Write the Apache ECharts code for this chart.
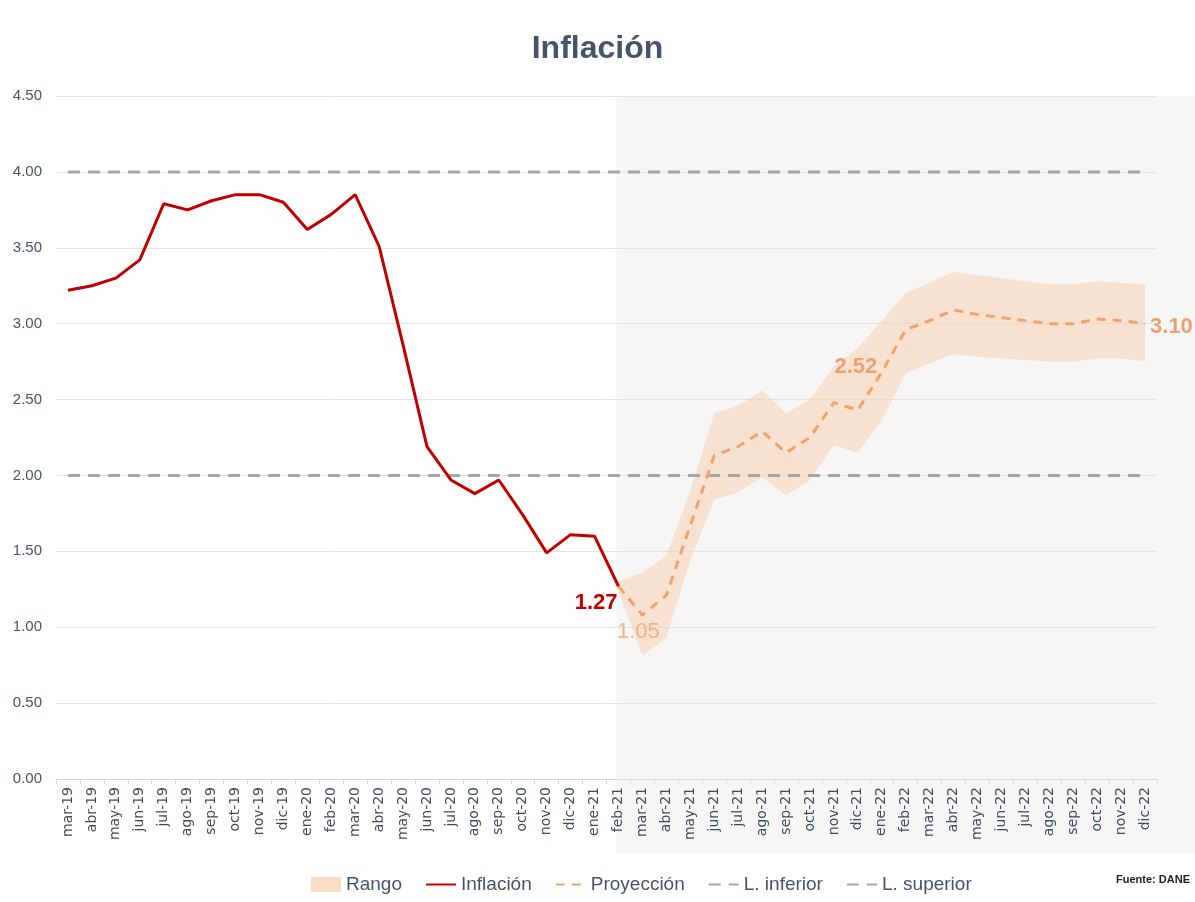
<!DOCTYPE html>
<html>
<head>
<meta charset="utf-8">
<script src="https://cdn.jsdelivr.net/npm/echarts@6/dist/echarts.min.js"></script>
<style>
html,body{margin:0;padding:0;background:#fff;}
#chart{width:1195px;height:902px;}
</style>
</head>
<body>
<div id="chart"></div>
<script>
const categories = ['mar-19','abr-19','may-19','jun-19','jul-19','ago-19','sep-19','oct-19','nov-19','dic-19',
  'ene-20','feb-20','mar-20','abr-20','may-20','jun-20','jul-20','ago-20','sep-20','oct-20','nov-20','dic-20',
  'ene-21','feb-21','mar-21','abr-21','may-21','jun-21','jul-21','ago-21','sep-21','oct-21','nov-21','dic-21',
  'ene-22','feb-22','mar-22','abr-22','may-22','jun-22','jul-22','ago-22','sep-22','oct-22','nov-22','dic-22'];

// Observed inflation mar-19 .. feb-21
const inflacion = [3.22,3.25,3.30,3.42,3.79,3.75,3.81,3.85,3.85,3.80,
  3.62,3.72,3.85,3.51,2.86,2.19,1.97,1.88,1.97,1.74,1.49,1.61,
  1.60,1.27];

// Projection feb-21 .. dic-22
const proyeccion = [1.27,1.08,1.21,1.67,2.13,2.19,2.29,2.15,2.25,2.48,2.43,
  2.68,2.96,3.02,3.09,3.06,3.04,3.02,3.00,3.00,3.03,3.02,3.00];

// Range band feb-21 .. dic-22
const rangoSup = [1.30,1.36,1.47,1.90,2.41,2.46,2.56,2.41,2.50,2.72,2.84,
  3.02,3.20,3.27,3.34,3.32,3.30,3.28,3.26,3.26,3.28,3.27,3.26];
const rangoInf = [1.24,0.81,0.93,1.44,1.84,1.89,1.99,1.87,1.97,2.20,2.15,
  2.36,2.67,2.74,2.80,2.78,2.77,2.76,2.75,2.75,2.77,2.77,2.75];

const limiteInferior = 2.00;
const limiteSuperior = 4.00;

const yTicks = [0, 0.5, 1, 1.5, 2, 2.5, 3, 3.5, 4, 4.5];

const inflLabels = [{cat:'feb-21', text:'1.27'}];
const projLabels = [{cat:'mar-21', text:'1.05'}, {cat:'dic-21', text:'2.52'}, {cat:'dic-22', text:'3.10'}];

const projStart = categories.indexOf('feb-21');
const N = categories.length;

function pad(arr, start) {
  const out = new Array(N).fill('-');
  arr.forEach((v, i) => { out[start + i] = v; });
  return out;
}

const NARROW = '"Liberation Sans Narrow", "Liberation Sans", sans-serif';
const slate = '#44546a';

const inflData = inflacion.map((v, i) => {
  const lab = inflLabels.find(l => l.cat === categories[i]);
  if (!lab) return v;
  return {value: v, label: {show: true, formatter: lab.text, position: 'left', distance: 0, offset: [-1, 17],
    color: '#c00000', fontFamily: NARROW, fontWeight: 'bold', fontSize: 22}};
});
while (inflData.length < N) inflData.push('-');

const projStyles = {
  'mar-21': {position: 'bottom', distance: 6, offset: [-4, 0], fontWeight: 'normal', color: '#efb48a'},
  'dic-21': {position: 'top', distance: 32, offset: [-2, 0], fontWeight: 'bold', color: '#e9a272'},
  'dic-22': {position: 'right', distance: 5, offset: [0, 3], fontWeight: 'bold', color: '#e9a272'}
};
const projData = pad(proyeccion, projStart).map((v, i) => {
  const lab = projLabels.find(l => l.cat === categories[i]);
  if (!lab || v === '-') return v;
  const s = projStyles[lab.cat];
  return {value: v, label: Object.assign({show: true, formatter: lab.text, fontFamily: NARROW, fontSize: 22}, s)};
});

const bandBase = pad(rangoInf, projStart);
const bandWidth = pad(rangoSup.map((v, i) => +(v - rangoInf[i]).toFixed(2)), projStart);

const chart = echarts.init(document.getElementById('chart'), null, {renderer: 'canvas'});

const option = {
  animation: false,
  backgroundColor: '#ffffff',
  title: {
    text: 'Inflación',
    left: 'center',
    top: 28,
    textStyle: {fontFamily: NARROW, fontWeight: 'bold', fontSize: 32, color: slate}
  },
  grid: {left: 56, right: 38, top: 96, bottom: 123, containLabel: false},
  legend: {
    left: 306,
    top: 870,
    itemWidth: 30,
    itemHeight: 15,
    itemGap: 23,
    textStyle: {fontFamily: NARROW, fontSize: 19, color: slate},
    data: [
      {name: 'Rango', icon: 'rect', itemStyle: {color: '#f9dcc6'}},
      {name: 'Inflación', itemStyle: {opacity: 0}},
      {name: 'Proyección', itemStyle: {opacity: 0}},
      {name: 'L. inferior', itemStyle: {opacity: 0}},
      {name: 'L. superior', itemStyle: {opacity: 0}}
    ]
  },
  xAxis: {
    type: 'category',
    data: categories,
    boundaryGap: true,
    axisLine: {show: true, lineStyle: {color: '#d9d9d9', width: 1}},
    axisTick: {show: true, length: 5, lineStyle: {color: '#d9d9d9'}},
    axisLabel: {rotate: 90, interval: 0, margin: 8, fontFamily: '"DejaVu Sans", sans-serif', fontSize: 14, color: '#3f4b5e'},
    splitLine: {show: false}
  },
  yAxis: {
    type: 'value',
    min: 0,
    max: 4.5,
    interval: 0.5,
    axisLine: {show: false},
    axisTick: {show: false},
    axisLabel: {margin: 14, fontFamily: NARROW, fontSize: 15, color: slate,
      formatter: v => (yTicks.indexOf(v) >= 0 ? v.toFixed(2) : '')},
    splitLine: {show: true, lineStyle: {color: '#e3e3e3', width: 1}}
  },
  series: [
    {
      name: 'RangoBase', type: 'line', stack: 'band', data: bandBase, symbol: 'none',
      lineStyle: {width: 0, opacity: 0}, areaStyle: {opacity: 0}, silent: true, z: 1
    },
    {
      name: 'Rango', type: 'line', stack: 'band', data: bandWidth, symbol: 'none',
      itemStyle: {color: '#f9dcc6'},
      lineStyle: {width: 0, opacity: 0},
      areaStyle: {color: 'rgba(248,206,174,0.52)', opacity: 1}, z: 1
    },
    {
      name: 'L. inferior', type: 'line', data: categories.map(() => limiteInferior), symbol: 'none',
      itemStyle: {color: '#a6a6a6'},
      lineStyle: {color: '#a6a6a6', width: 3, type: [12, 8]}, z: 2
    },
    {
      name: 'L. superior', type: 'line', data: categories.map(() => limiteSuperior), symbol: 'none',
      itemStyle: {color: '#a6a6a6'},
      lineStyle: {color: '#a6a6a6', width: 3, type: [12, 8]}, z: 2
    },
    {
      name: 'Proyección', type: 'line', data: projData, symbol: 'circle', symbolSize: 0, showSymbol: true,
      itemStyle: {color: '#f0a46e'},
      lineStyle: {color: '#f0a46e', width: 3, type: [9, 7]}, z: 3
    },
    {
      name: 'Inflación', type: 'line', data: inflData, symbol: 'circle', symbolSize: 0, showSymbol: true,
      itemStyle: {color: '#c00000'},
      lineStyle: {color: '#c00000', width: 3}, z: 4
    }
  ]
};

chart.setOption(option);

// Shaded projection zone behind the plot, positioned through the chart's own scales
const pStart = chart.convertToPixel({xAxisIndex: 0}, 'feb-21');
const yTop = chart.convertToPixel({yAxisIndex: 0}, 4.5);
const yZero = chart.convertToPixel({yAxisIndex: 0}, 0);
chart.setOption({
  graphic: [
    {
      type: 'rect', z: -10, silent: true,
      shape: {x: pStart - 2, y: yTop, width: 1195 - (pStart - 2), height: (yZero - yTop) + 74},
      style: {fill: '#f6f6f6'}
    },
    {
      type: 'text', z: 10, right: 5, top: 874,
      style: {text: 'Fuente: DANE', font: 'bold 11px "Liberation Sans Narrow", sans-serif', fill: '#222'}
    }
  ]
});
</script>
</body>
</html>
